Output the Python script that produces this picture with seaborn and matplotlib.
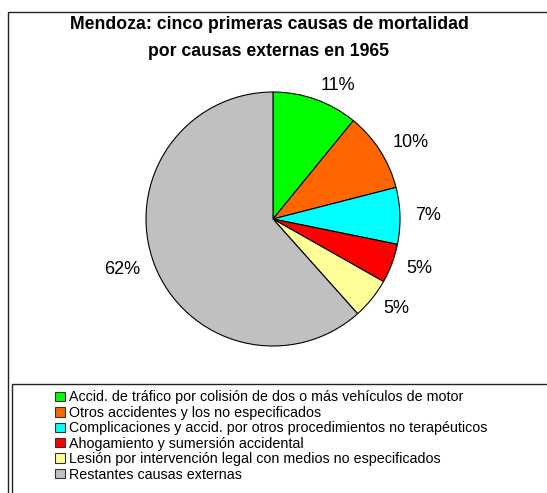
import matplotlib
matplotlib.use("Agg")
import matplotlib.pyplot as plt
import matplotlib.patches as mpatches
import seaborn as sns

sns.set_style("white")
plt.rcParams['font.family'] = ['Liberation Sans', 'DejaVu Sans']
plt.rcParams['text.color'] = 'black'

categories = [
    "Accid. de tráfico por colisión de dos o más vehículos de motor",
    "Otros accidentes y los no especificados",
    "Complicaciones y accid. por otros procedimientos no terapéuticos",
    "Ahogamiento y sumersión accidental",
    "Lesión por intervención legal con medios no especificados",
    "Restantes causas externas",
]
values = [10.9, 10.1, 7.2, 5.0, 5.2, 61.6]
pct_labels = ["11%", "10%", "7%", "5%", "5%", "62%"]
colors = ["#00FF00", "#FF6600", "#00FFFF", "#FF0000", "#FFFF99", "#C0C0C0"]
title = "Mendoza: cinco primeras causas de mortalidad\npor causas externas en 1965"

W, H = 547, 493
fig = plt.figure(figsize=(W / 100, H / 100), dpi=100)
fig.patch.set_facecolor("white")

# pie axes: center (273, 219) px, radius 127 px
cx, cy, r = 273, 219, 127
ax = fig.add_axes([(cx - r) / W, (H - cy - r) / H, 2 * r / W, 2 * r / H])
wedges, texts = ax.pie(
    values, labels=pct_labels, colors=colors, startangle=90, counterclock=False,
    labeldistance=1.12, radius=1.0,
    wedgeprops=dict(edgecolor="black", linewidth=0.8),
    textprops=dict(fontsize=13, color="black"),
)
ax.set_xlim(-1, 1)
ax.set_ylim(-1, 1)
ax.set_aspect("equal")
ax.axis("off")

# title
fig.text(269 / W, 1 - 38 / H, title, ha="center", va="center", color="black",
         fontsize=12.7, fontweight="bold", linespacing=1.7)

# outer border
fig.patches.append(mpatches.Rectangle((8 / W, -0.1), 1.2, 1 - 12 / H + 0.1,
                                      transform=fig.transFigure, fill=False,
                                      edgecolor="#222222", linewidth=1.0))
# legend border
fig.patches.append(mpatches.Rectangle((12 / W, -0.1), 1.2, 1 - 384 / H + 0.1,
                                      transform=fig.transFigure, fill=False,
                                      edgecolor="#222222", linewidth=1.0))

handles = [mpatches.Patch(facecolor=c, edgecolor="#333333", linewidth=0.8) for c in colors]
fig.legend(handles, categories, loc="upper left",
           bbox_to_anchor=(44 / W, 1 - 379 / H), frameon=False,
           fontsize=10.3, handlelength=0.65, handleheight=0.65,
           handletextpad=0.3, labelspacing=0.1, borderpad=0.3,
           labelcolor="black")

fig.savefig("out.png", dpi=100, facecolor="white")
